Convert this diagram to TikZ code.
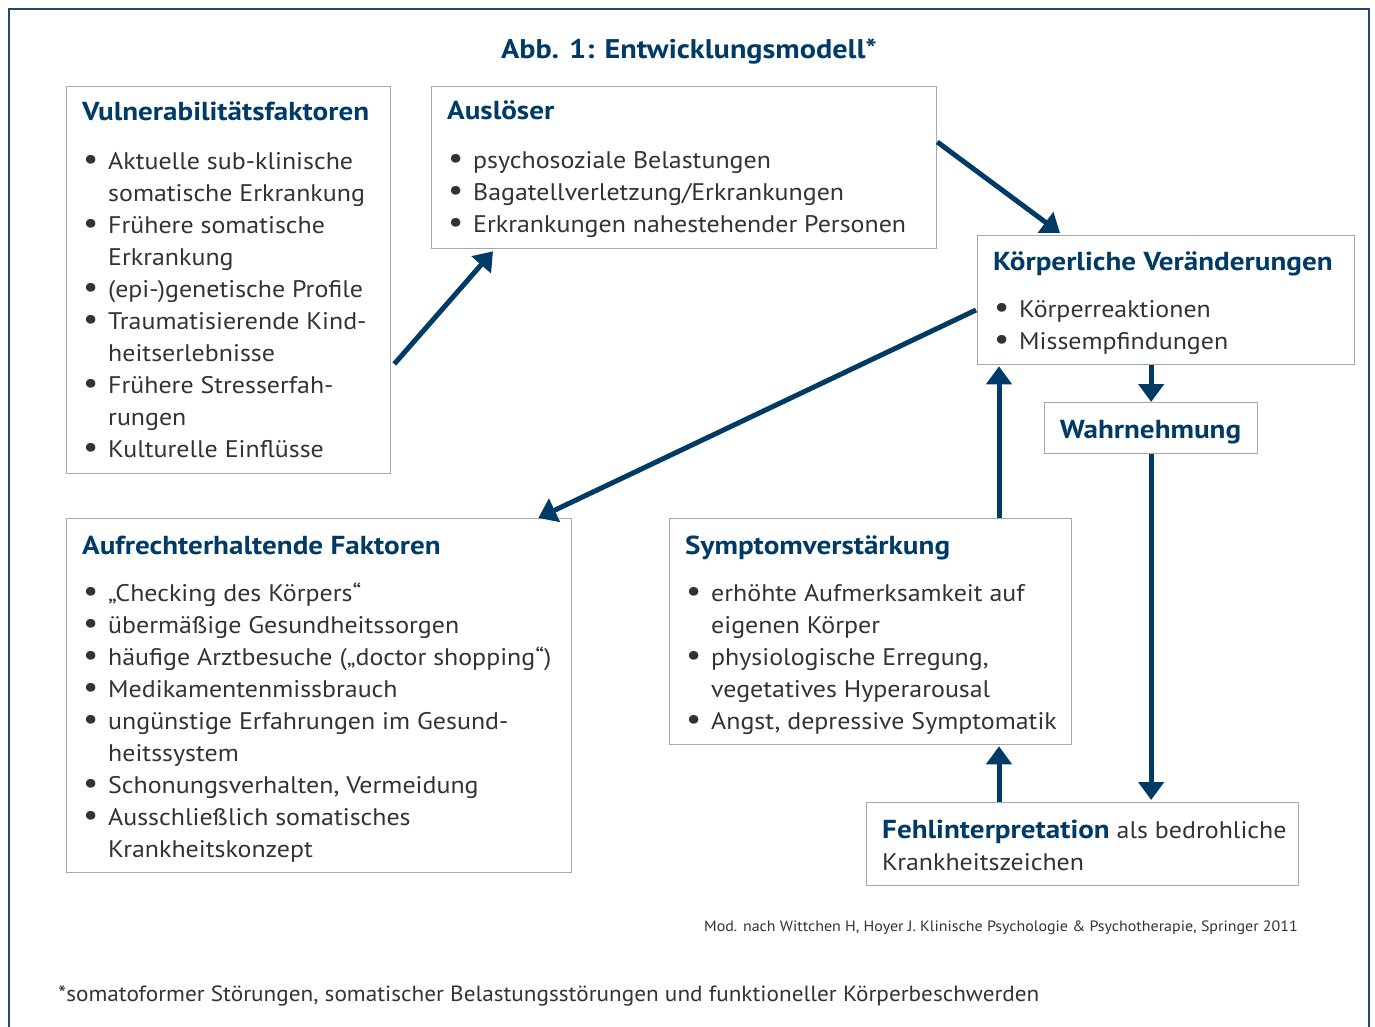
\documentclass[tikz,border=0pt]{standalone}
\usepackage{fontspec}
\setmainfont{PT Sans}
\newfontfamily\bodyf[FakeStretch=1.08]{PT Sans}
\newfontfamily\ttlf[FakeStretch=1.12]{PT Sans}
\newfontfamily\footf[FakeStretch=1.055]{PT Sans}
\newfontfamily\srcf[FakeStretch=1.065]{PT Sans}
\usetikzlibrary{arrows.meta}
\definecolor{dblue}{HTML}{003B68}
\definecolor{frameblue}{HTML}{1F4A73}
\definecolor{boxgray}{HTML}{A8A8A8}
\definecolor{txtgray}{HTML}{333333}
\newcommand\bu{\makebox[26pt][l]{\hspace{1pt}\raisebox{-0.5pt}{\scalebox{1.3}{\textbullet}}}}
\newcommand\cn{\hspace*{26pt}}
\begin{document}
\begin{tikzpicture}[x=1pt,y=-1pt,
  boxnode/.style={draw=boxgray,line width=1.3pt,fill=white,anchor=north west,inner sep=0pt},
  ttl/.style={font=\ttlf\fontsize{26}{30}\selectfont\bfseries,text=dblue,anchor=base west,inner sep=0pt},
  lst/.style={font=\bodyf\fontsize{24}{32}\selectfont,text=txtgray,align=left,anchor=north west,inner sep=0pt},
  arr/.style={draw=dblue,line width=5pt,-{Triangle[width=25pt,length=18pt]}}]
\useasboundingbox (0,0) rectangle (1375,1027);
\draw[frameblue,line width=1.5pt] (9,9) rectangle (1369,1040);
\node[font=\ttlf\fontsize{27}{30}\selectfont\bfseries,text=dblue,anchor=base,inner sep=0pt] (title) at (689,59) {Abb. 1: Entwicklungsmodell*};

% boxes
\node[boxnode,minimum width=324pt,minimum height=387pt] (vul) at (66,86) {};
\node[boxnode,minimum width=505pt,minimum height=162pt] (aus) at (431,86) {};
\node[boxnode,minimum width=377pt,minimum height=129pt] (kor) at (977,235) {};
\node[boxnode,minimum width=213pt,minimum height=51pt] (wah) at (1044,402) {};
\node[boxnode,minimum width=505pt,minimum height=354pt] (auf) at (66,518) {};
\node[boxnode,minimum width=402pt,minimum height=226pt] (sym) at (669,518) {};
\node[boxnode,minimum width=432pt,minimum height=83pt] (feh) at (866,802) {};

% texts
\node[ttl] (vulT) at (82,121) {Vulnerabilitätsfaktoren};
\node[lst] (vulL) at (82,146.6) {\strut\bu Aktuelle sub-klinische\\\cn somatische Erkrankung\\\bu Frühere somatische\\\cn Erkrankung\\\bu (epi-)genetische Profile\\\bu Traumatisierende Kind-\\\cn heitserlebnisse\\\bu Frühere Stresserfah-\\\cn rungen\\\bu Kulturelle Einflüsse};

\node[ttl] (ausT) at (447,120) {Auslöser};
\node[lst] (ausL) at (447,145.6) {\strut\bu psychosoziale Belastungen\\\bu Bagatellverletzung/Erkrankungen\\\bu Erkrankungen nahestehender Personen};

\node[ttl] (korT) at (993,270) {Körperliche Veränderungen};
\node[lst] (korL) at (993,294.6) {\strut\bu Körperreaktionen\\\bu Missempfindungen};

\node[ttl,anchor=base] (wahT) at (1150.5,438) {Wahrnehmung};

\node[ttl] (aufT) at (82,554) {Aufrechterhaltende Faktoren};
\node[lst] (aufL) at (82,578.6) {\strut\bu „Checking des Körpers“\\\bu übermäßige Gesundheitssorgen\\\bu häufige Arztbesuche („doctor shopping“)\\\bu Medikamentenmissbrauch\\\bu ungünstige Erfahrungen im Gesund-\\\cn heitssystem\\\bu Schonungsverhalten, Vermeidung\\\bu Ausschließlich somatisches\\\cn Krankheitskonzept};

\node[ttl] (symT) at (685,554) {Symptomverstärkung};
\node[lst] (symL) at (685,578.6) {\strut\bu erhöhte Aufmerksamkeit auf\\\cn eigenen Körper\\\bu physiologische Erregung,\\\cn vegetatives Hyperarousal\\\bu Angst, depressive Symptomatik};

\node[ttl] (fehT) at (882,838) {Fehlinterpretation{\bodyf\fontsize{24}{32}\selectfont\mdseries\color{txtgray}\ als bedrohliche}};
\node[lst,anchor=base west] (fehL) at (882,870) {Krankheitszeichen};

\node[font=\srcf\fontsize{15}{18}\selectfont,text=txtgray,anchor=base east,inner sep=0pt] (src) at (1298,931) {Mod. nach Wittchen H, Hoyer J. Klinische Psychologie \& Psychotherapie, Springer 2011};
\node[font=\footf\fontsize{22}{26}\selectfont,text=txtgray,anchor=base west,inner sep=0pt] (foot) at (58,1001) {*somatoformer Störungen, somatischer Belastungsstörungen und funktioneller Körperbeschwerden};

% arrows
\draw[arr] ([xshift=3pt,yshift=-278pt]vul.north east) -- ([xshift=62pt,yshift=-2pt]aus.south west);
\draw[arr] ([yshift=-56pt]aus.north east) -- ([xshift=83pt,yshift=2pt]kor.north west);
\draw[arr] ([xshift=-1pt,yshift=-75pt]kor.north west) -- ([xshift=-34pt]auf.north east);
\draw[arr] (wah.north |- kor.south) -- (wah.north);
\draw[arr] (wah.south) -- ([yshift=2pt]wah.south |- feh.north);
\coordinate (symtop) at ([xshift=330pt]sym.north west);
\draw[arr] (symtop) -- ([yshift=-1pt]symtop |- kor.south);
\coordinate (fehtop) at ([xshift=133pt]feh.north west);
\draw[arr] (fehtop) -- ([yshift=-1pt]fehtop |- sym.south);
\end{tikzpicture}
\end{document}
